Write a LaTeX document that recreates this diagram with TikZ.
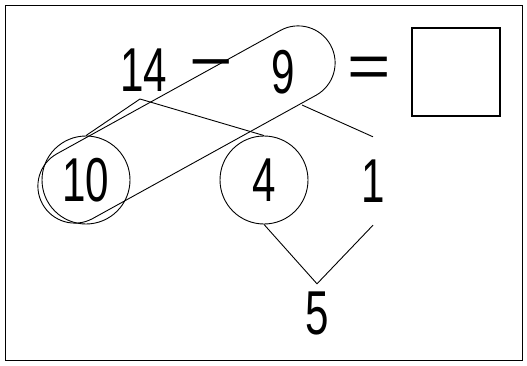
\documentclass[tikz,border=0pt]{standalone}
\usepackage{fontspec}
\newfontfamily\digitfont[FakeStretch=0.68]{Liberation Sans}
\newfontfamily\opfont[FakeStretch=1.2]{Liberation Sans}
\usetikzlibrary{shapes.misc, calc}
\tikzset{
	digit/.style={inner sep=0pt, font=\digitfont\fontsize{62}{62}\selectfont},
	oper/.style={inner sep=0pt, font=\opfont\fontsize{62}{62}\selectfont},
	ring/.style={circle, draw, line width=0.9pt, inner sep=0pt, minimum size=88pt, font=\digitfont\fontsize{62}{62}\selectfont},
	answerbox/.style={rectangle, draw, line width=1.1pt, minimum width=88pt, minimum height=88pt, inner sep=0pt},
	pill/.style={rounded rectangle, draw, line width=0.9pt, inner sep=0pt},
	link/.style={line width=0.9pt},
}

\begin{document}
\begin{tikzpicture}[x=1pt, y=-1pt]
		\useasboundingbox (0,0) rectangle (527,365);
		\draw[line width=1pt] (5,5) rectangle (522,360);
		% top row
		\node[digit] (fourteen) at (144,70) {14};
		\node[oper] (minus) at (211,71) {−};
		\node[digit] (nine) at (283,72) {9};
		\node[oper] (equals) at (369,72) {=};
		\node[answerbox] (answer) at (456,72) {};
		% second row
		\node[ring] (ten) at (86,180) {10};
		\node[ring] (four) at (264,180) {4};
		\node[digit, minimum height=88pt] (one) at (373,181) {1};
		\node[digit, minimum height=58pt] (five) at (317,313) {5};
		% group of 10 and 9
		\node[pill, minimum width=329pt, minimum height=74pt, rotate=28.9] (group) at (186.5,124.5) {};
		% splits
		\coordinate (split14) at (140,99);
		\coordinate (split9) at (302,105);
		\coordinate (join5) at (five.north);
		\draw[link] (ten.north) -- (split14) -- (four.north);
		\draw[link] (split9) -- (one.north);
		\draw[link] (four.south) -- (join5) -- (one.south);
	\end{tikzpicture}
\end{document}
